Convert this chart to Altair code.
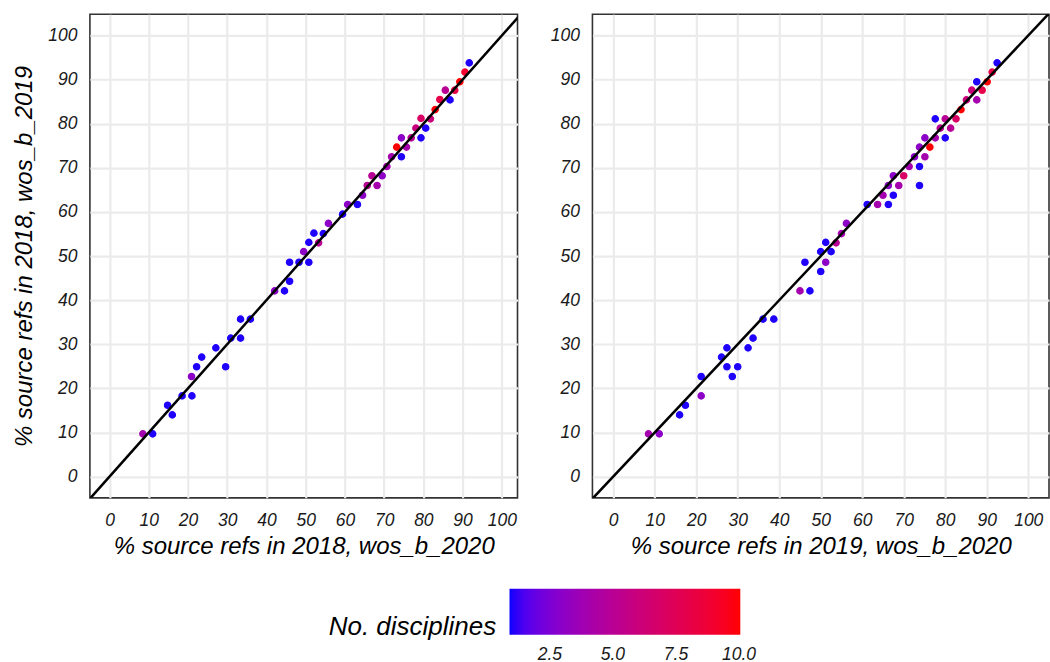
import altair as alt
import pandas as pd

# ---- data ----
left_x = [91.7, 90.6, 89.3, 88.0, 85.6, 86.8, 84.2, 83.0, 79.4, 81.8, 80.6, 78.1, 79.4, 76.9, 74.4,
          73.2, 75.7, 74.4, 71.9, 70.7, 69.5, 66.9, 68.2, 65.7, 64.5, 63.2, 60.7, 59.4, 55.8, 54.5,
          52.1, 50.8, 53.3, 49.5, 45.9, 48.3, 50.8, 45.9, 44.6, 42.1, 33.4, 35.9, 30.9, 33.4, 27.1,
          23.5, 22.2, 29.6, 20.9, 18.5, 21.0, 14.8, 16.0, 8.5, 11.0]
left_y = [93.8, 91.7, 89.5, 87.6, 87.6, 85.4, 85.5, 83.2, 81.2, 81.1, 79.0, 79.0, 76.8, 76.8, 76.8,
          74.7, 74.7, 72.5, 72.5, 70.3, 68.2, 68.2, 66.0, 66.0, 63.8, 61.7, 61.7, 59.5, 57.4, 55.1,
          55.2, 53.1, 53.0, 51.0, 48.6, 48.6, 48.6, 44.3, 42.1, 42.1, 35.7, 35.7, 31.4, 31.4, 29.2,
          27.1, 24.9, 24.9, 22.7, 18.3, 18.3, 16.2, 14.0, 9.7, 9.7]
left_n = [1, 9, 10, 8, 5, 1, 8, 10, 7, 6, 1, 6, 1, 5, 3,
          10, 4, 1, 4, 4, 3, 5, 4, 5, 3, 1, 3, 1, 3, 1,
          1, 1, 5, 3, 1, 1, 1, 1, 1, 3, 1, 1, 1, 1, 1,
          1, 1, 1, 3, 1, 1, 1, 1, 4, 1]

right_x = [92.5, 91.3, 90.1, 87.6, 86.4, 88.9, 87.6, 85.1, 83.8, 77.6, 80.0, 82.6, 78.8, 81.3, 75.1,
           77.6, 80.0, 73.8, 76.3, 72.6, 75.1, 71.3, 73.8, 70.0, 67.5, 66.3, 68.8, 73.8, 65.0, 67.5,
           61.2, 63.7, 66.3, 56.2, 55.0, 51.2, 53.7, 50.0, 52.5,
           46.2, 51.2, 50.0, 45.0, 47.4, 36.1, 38.7, 33.7, 27.4, 32.5, 26.1, 27.4, 30.0, 28.7, 21.2,
           21.2, 17.4, 16.0, 8.5, 11.1]
right_y = [93.8, 91.7, 89.5, 89.5, 87.6, 87.6, 85.4, 85.4, 83.2, 81.1, 81.1, 81.1, 79.0, 79.0, 76.8,
           76.8, 76.8, 74.7, 74.7, 72.5, 72.5, 70.3, 70.3, 68.2, 68.2, 66.0, 66.0, 66.0, 63.8, 63.8,
           61.7, 61.7, 61.7, 57.4, 55.1, 53.1, 53.0, 51.0, 51.0,
           48.6, 48.6, 46.5, 42.1, 42.1, 35.7, 35.7, 31.4, 29.2, 29.2, 27.1, 24.9, 24.9, 22.7, 22.7,
           18.3, 16.2, 14.0, 9.7, 9.7]
right_n = [1, 8, 10, 1, 6, 8, 4, 6, 10, 1, 5, 7, 5, 5, 3,
           4, 1, 3, 10, 3, 4, 4, 1, 7, 3, 3, 4, 1, 4, 1,
           1, 4, 1, 3, 4, 1, 5, 1, 1,
           1, 3, 1, 4, 1, 1, 1, 1, 1, 1, 1, 1, 1, 1, 1,
           3, 1, 1, 4, 3]

diag = [-10, 110]
grid_vals = list(range(0, 101, 5))
legend_vals = [2.5, 5.0, 7.5, 10.0]

FONT = "Liberation Sans"

left_df = pd.DataFrame({"x": left_x, "y": left_y, "n": left_n})
right_df = pd.DataFrame({"x": right_x, "y": right_y, "n": right_n})
diag_df = pd.DataFrame({"x": diag, "y": diag})

grid_width = {"condition": {"test": "datum.value % 10 === 0", "value": 2.2}, "value": 1.4}


def make_axis(title_pad, label_pad):
    return alt.Axis(
        values=grid_vals,
        labelExpr="datum.value % 10 === 0 ? datum.label : ''",
        grid=True, gridColor="#EBEBEB", gridWidth=grid_width,
        ticks=False, tickSize=0, domain=False,
        labelFont=FONT, labelFontStyle="italic", labelFontSize=17.5, labelColor="#1a1a1a",
        labelPadding=label_pad, labelFlush=False,
        titleFont=FONT, titleFontStyle="italic", titleFontWeight="normal", titleFontSize=24,
        titleColor="#000000", titlePadding=title_pad,
    )


color_scale = alt.Scale(domain=[0.9, 10.05], range=["#0000FF", "#FF0000"], interpolate="lab")


def panel(df, xtitle, ytitle, width, xmax, with_legend):
    xs = alt.Scale(domain=[-5, xmax], nice=False, zero=False)
    ys = alt.Scale(domain=[-4.8, 104.8], nice=False, zero=False)
    if with_legend:
        color = alt.Color("n:Q", scale=color_scale, legend=alt.Legend(
            orient="none", legendX=239, legendY=575, direction="horizontal",
            title="No. disciplines", titleOrient="left", titleFont=FONT, titleFontStyle="italic",
            titleFontWeight="normal", titleFontSize=26, titleColor="#000000", titlePadding=13,
            titleBaseline="alphabetic", titleAnchor="end",
            gradientLength=231, gradientThickness=46, gradientStrokeWidth=0,
            values=legend_vals, format=".1f", labelAlign="center",
            labelFont=FONT, labelFontStyle="italic", labelFontSize=17.5, labelColor="#1a1a1a",
            labelOffset=11,
        ))
    else:
        color = alt.Color("n:Q", scale=color_scale)
    pts = alt.Chart(df).mark_circle(size=78, opacity=1, stroke="white", strokeWidth=1.2).encode(
        x=alt.X("x:Q", scale=xs, axis=make_axis(5, 14), title=xtitle),
        y=alt.Y("y:Q", scale=ys, axis=make_axis(11, 13), title=ytitle),
        color=color,
    )
    line = alt.Chart(diag_df).mark_line(color="black", strokeWidth=2.5, clip=True).encode(
        x=alt.X("x:Q", scale=xs), y=alt.Y("y:Q", scale=ys)
    )
    return alt.layer(pts, line).properties(width=width, height=484)


left = panel(left_df, "% source refs in 2018, wos_b_2020", "% source refs in 2018, wos_b_2019", 428, 104, True)
right = panel(right_df, "% source refs in 2019, wos_b_2020", "", 457, 105, False)

chart = alt.hconcat(left, right, spacing=31).properties(
    padding={"left": 12, "top": 13, "right": 0, "bottom": 0},
    background="white",
).configure_view(stroke="#333333", strokeWidth=1.6)

chart.save("out.html", embed_options={"renderer": "svg", "actions": False})
